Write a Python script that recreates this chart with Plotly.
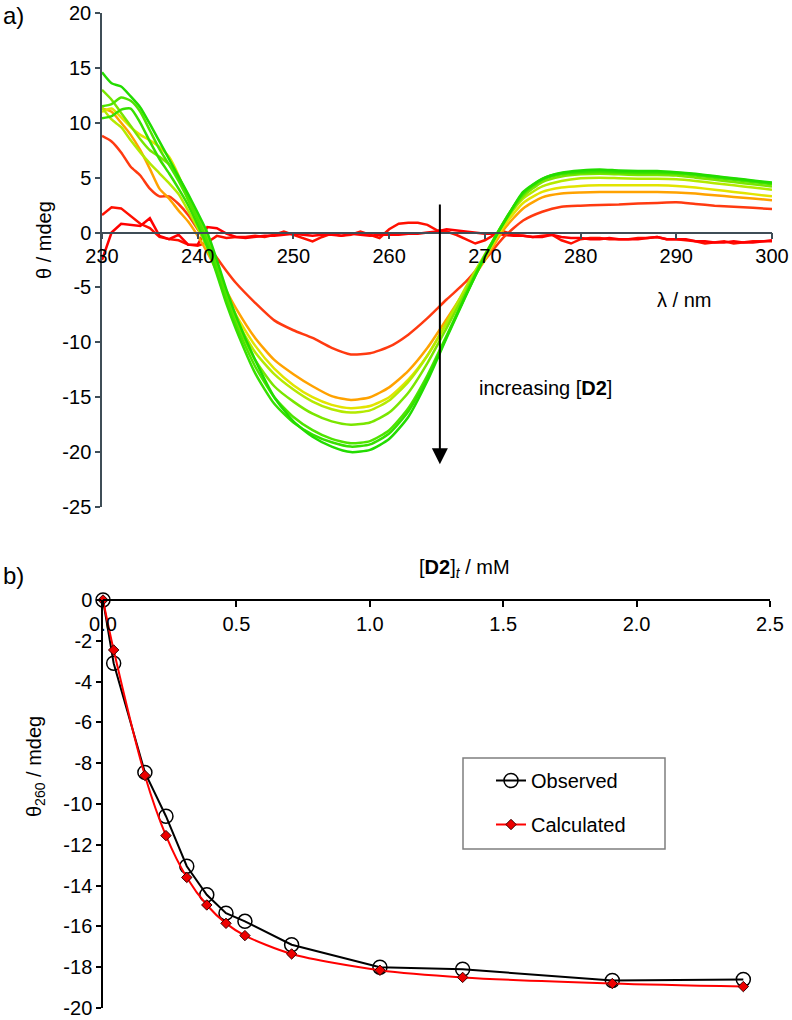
import plotly.graph_objects as go

# ---- panel a: CD spectra ----
wl = [230, 231, 232, 233, 234, 235, 236, 237, 238, 239, 240, 241, 242, 243, 244,
      246, 248, 250, 252, 254, 256, 258, 260, 262, 264, 266, 268, 270, 272, 274,
      276, 278, 280, 282, 284, 286, 288, 290, 292, 294, 296, 298, 300]

wl_fine = [230, 231, 232, 233, 234, 235, 236, 237, 238, 239, 240, 241, 242, 243, 244,
           245, 246, 247, 248, 249, 250, 251, 252, 253, 254, 255, 256, 257, 258, 259,
           260, 261, 262, 263, 264, 265, 266, 267, 268, 269, 270, 271, 272, 273, 274,
           275, 276, 277, 278, 279, 280, 281, 282, 283, 284, 285, 286, 287, 288, 289,
           290, 291, 292, 293, 294, 295, 296, 297, 298, 299, 300]

# two noisy spectra with almost no signal
base_1 = [1.6, 2.3, 2.2, 1.5, 0.8, 0.4, -0.4, -0.6, -0.7, -1.1, -1.2, -0.9, -0.3, -0.5, -0.4,
          -0.4, -0.3, -0.4, -0.2, 0.1, -0.2, -0.5, -0.8, -0.4, -0.1, -0.3, -0.2, 0.1, -0.2, -0.5,
          0.3, 0.8, 0.9, 0.9, 0.7, 0.2, 0.1, -0.2, -0.6, -1.0, -0.7, -0.2, 0.1, -0.2, -0.3,
          -0.4, -0.3, -0.2, -0.7, -1.0, -0.6, -0.5, -0.5, -0.6, -0.6, -0.6, -0.5, -0.5, -0.4, -0.6,
          -0.6, -0.7, -0.8, -1.0, -0.9, -0.8, -1.0, -0.9, -0.8, -0.8, -0.8]
base_2 = [-2.5, 0.0, 0.8, 0.7, 0.6, 1.3, -0.3, -0.6, -0.2, -1.1, -1.1, 0.5, 0.4, -0.1, -0.4,
          -0.5, -0.4, -0.3, -0.3, -0.2, -0.1, -0.2, -0.3, -0.2, -0.2, -0.3, -0.1, -0.2, -0.3, -0.2,
          -0.2, -0.2, -0.1, -0.1, 0.0, 0.1, 0.3, 0.2, 0.1, 0.0, -0.1, -0.1, -0.2, -0.3, -0.3,
          -0.4, -0.4, -0.2, -0.4, -0.5, -0.5, -0.6, -0.6, -0.5, -0.6, -0.6, -0.6, -0.5, -0.4, -0.6,
          -0.6, -0.6, -0.8, -0.8, -0.9, -0.9, -0.8, -0.9, -0.9, -0.8, -0.7]

cd_1 = [8.8, 8.3, 7.3, 6.0, 5.2, 4.0, 3.3, 3.3, 2.6, 1.6, 0.3, -1.0, -2.3, -3.5, -4.6,
        -6.4, -8.0, -8.9, -9.6, -10.5, -11.1, -11.0, -10.4, -9.3, -7.8, -6.1, -4.5, -2.5, -0.4, 1.1,
        1.9, 2.35, 2.45, 2.5, 2.55, 2.65, 2.7, 2.75, 2.6, 2.45, 2.35, 2.25, 2.15]
cd_2 = [11.3, 11.0, 10.0, 8.9, 7.5, 5.8, 4.0, 3.1, 2.0, 1.0, -0.3, -1.8, -3.5, -5.3, -6.9,
        -9.6, -11.6, -12.9, -14.0, -14.9, -15.25, -15.0, -14.1, -12.6, -10.5, -7.9, -5.2, -2.5, 0.3, 2.2,
        3.2, 3.55, 3.65, 3.7, 3.7, 3.7, 3.7, 3.65, 3.55, 3.4, 3.25, 3.1, 2.95]
cd_3 = [11.0, 11.3, 10.5, 9.6, 8.9, 8.4, 7.8, 6.9, 5.2, 3.0, 1.0, -0.8, -3.0, -5.5, -7.5,
        -10.3, -12.4, -13.9, -15.0, -15.7, -16.0, -15.8, -15.0, -13.4, -11.2, -8.3, -5.3, -2.3, 0.6, 2.7,
        3.7, 4.1, 4.25, 4.3, 4.3, 4.3, 4.3, 4.25, 4.1, 3.9, 3.7, 3.5, 3.3]
cd_4 = [11.4, 10.3, 9.6, 8.4, 7.3, 6.3, 5.4, 4.5, 3.5, 2.0, 0.4, -1.4, -3.6, -5.9, -7.9,
        -10.9, -12.9, -14.3, -15.4, -16.1, -16.4, -16.2, -15.3, -13.6, -11.2, -8.2, -5.0, -2.0, 0.9, 3.1,
        4.2, 4.7, 4.95, 5.0, 4.95, 4.9, 4.9, 4.85, 4.7, 4.5, 4.3, 4.1, 3.9]
cd_5 = [13.0, 12.1, 10.9, 9.7, 8.5, 7.5, 6.9, 6.2, 5.0, 3.4, 1.5, -0.5, -3.0, -5.7, -8.0,
        -11.6, -14.0, -15.4, -16.5, -17.2, -17.5, -17.3, -16.4, -14.6, -11.9, -8.7, -5.4, -2.1, 0.9, 3.3,
        4.6, 5.1, 5.3, 5.35, 5.3, 5.25, 5.25, 5.2, 5.0, 4.8, 4.6, 4.4, 4.2]
cd_6 = [11.5, 11.7, 12.3, 12.0, 11.0, 9.3, 7.6, 6.2, 4.7, 3.0, 1.2, -0.8, -3.3, -6.0, -8.4,
        -12.2, -15.0, -16.8, -18.0, -18.8, -19.2, -19.0, -18.0, -16.0, -13.0, -9.4, -5.7, -2.2, 1.0, 3.5,
        4.8, 5.3, 5.45, 5.5, 5.45, 5.4, 5.4, 5.35, 5.2, 5.0, 4.8, 4.6, 4.4]
cd_7 = [10.4, 10.6, 11.2, 11.3, 10.0, 8.3, 6.7, 5.4, 4.0, 2.5, 0.7, -1.3, -3.8, -6.5, -8.8,
        -12.8, -15.6, -17.3, -18.4, -19.1, -19.5, -19.3, -18.3, -16.3, -13.2, -9.5, -5.7, -2.1, 1.0, 3.6,
        4.9, 5.4, 5.55, 5.6, 5.55, 5.5, 5.5, 5.45, 5.3, 5.1, 4.9, 4.7, 4.5]
cd_8 = [14.6, 13.6, 13.3, 12.4, 11.4, 9.9, 8.3, 6.7, 5.1, 3.5, 1.8, 0.0, -2.5, -5.2, -7.6,
        -11.6, -15.0, -17.2, -18.6, -19.5, -20.0, -19.8, -18.8, -16.8, -13.5, -9.6, -5.8, -2.2, 0.9, 3.7,
        4.9, 5.45, 5.65, 5.75, 5.65, 5.6, 5.6, 5.5, 5.35, 5.15, 4.95, 4.75, 4.55]

spectra = [cd_1, cd_2, cd_3, cd_4, cd_5, cd_6, cd_7, cd_8]
spectra_colors = ['#ff3a10', '#ffa200', '#e2e400', '#b4ea00', '#7ae600', '#4ee400', '#36e000', '#22dc00']

# ---- panel b: theta at 260 nm vs [D2]t ----
conc = [0, 0.04, 0.157, 0.236, 0.314, 0.389, 0.461, 0.532, 0.707, 1.038, 1.348, 1.909, 2.40]
theta_obs = [0, -3.1, -8.45, -10.6, -13.05, -14.45, -15.35, -15.75, -16.9, -18.0, -18.1, -18.65, -18.6]
theta_calc = [0, -2.45, -8.6, -11.55, -13.6, -14.95, -15.85, -16.45, -17.35, -18.15, -18.5, -18.8, -18.95]

ya_ticks = [-25, -20, -15, -10, -5, 0, 5, 10, 15, 20]
ya_text = ['-25', '-20', '-15', '-10', '-5', '0', '5', '10', '15', '20']
yb_ticks = [-20, -18, -16, -14, -12, -10, -8, -6, -4, -2, 0]
yb_text = ['-20', '-18', '-16', '-14', '-12', '-10', '-8', '-6', '-4', '-2', '0']

W, H = 792, 1020
FONT = 'Liberation Sans, Arial, sans-serif'
SLATE = '#3f4d57'


def px(p):
    return p / W


def py(p):
    return 1 - p / H


fig = go.Figure()

for ys, col in zip([base_1, base_2], ['#ff1000', '#ff0000']):
    fig.add_trace(go.Scatter(x=wl_fine, y=ys, mode='lines', line=dict(color=col, width=2.5),
                             showlegend=False, xaxis='x', yaxis='y'))
for ys, col in zip(spectra, spectra_colors):
    fig.add_trace(go.Scatter(x=wl, y=ys, mode='lines', line=dict(color=col, width=2.5, shape='spline', smoothing=0.6),
                             showlegend=False, xaxis='x', yaxis='y'))

fig.add_trace(go.Scatter(x=conc, y=theta_obs, mode='lines+markers', name='Observed',
                         line=dict(color='black', width=2),
                         marker=dict(symbol='circle-open', size=14, color='black', line=dict(width=1.5)),
                         cliponaxis=False, legendgroup='obs', xaxis='x2', yaxis='y2'))
fig.add_trace(go.Scatter(x=conc, y=theta_calc, mode='lines+markers', name='Calculated',
                         line=dict(color='#ff0000', width=2, shape='spline', smoothing=0.8),
                         marker=dict(symbol='diamond', size=8, color='#ee0000', line=dict(color='#3a0000', width=1)),
                         cliponaxis=False, legendgroup='calc', xaxis='x2', yaxis='y2'))

# panel domains from pixel positions in the reference
ya_dom = [py(507), py(13)]
yb_dom = [py(1008), py(600)]
xa_pos = ya_dom[0] + (0 - (-25)) / 45 * (ya_dom[1] - ya_dom[0])

tick_font = dict(family=FONT, size=20, color='black')

fig.update_layout(
    width=W, height=H,
    margin=dict(l=0, r=0, t=0, b=0, autoexpand=False),
    paper_bgcolor='white', plot_bgcolor='rgba(0,0,0,0)',
    font=dict(family=FONT, size=20, color='black'),
    xaxis=dict(domain=[px(102), px(772)], range=[230, 300], anchor='free', position=xa_pos, side='bottom',
               dtick=10, showline=True, linecolor=SLATE, linewidth=1.5, ticks='outside', ticklen=6,
               tickcolor=SLATE, tickwidth=1.5, showgrid=False, zeroline=False, tickfont=tick_font,
               ticklabeloverflow='allow'),
    yaxis=dict(domain=ya_dom, range=[-25, 20], anchor='x', tickvals=ya_ticks, ticktext=ya_text,
               showline=True, linecolor=SLATE, linewidth=1.5, ticks='outside', ticklen=5,
               tickcolor=SLATE, tickwidth=1.5, showgrid=False, zeroline=False, tickfont=tick_font,
               ticklabeloverflow='allow'),
    xaxis2=dict(domain=[px(103), px(770)], range=[0, 2.5], anchor='free', position=yb_dom[1], side='bottom',
                dtick=0.5, tickformat='.1f', showline=True, linecolor='black', linewidth=1.5,
                ticks='outside', ticklen=6, tickcolor='black', tickwidth=1.5,
                showgrid=False, zeroline=False, tickfont=tick_font, ticklabeloverflow='allow'),
    yaxis2=dict(domain=yb_dom, range=[-20, 0], anchor='x2', tickvals=yb_ticks, ticktext=yb_text,
                showline=True, linecolor='black', linewidth=1.5, ticks='outside', ticklen=5,
                tickcolor='black', tickwidth=1.5, showgrid=False, zeroline=False, tickfont=tick_font,
                ticklabeloverflow='allow'),
    legend=dict(x=px(463), y=py(761), xanchor='left', yanchor='top',
                bgcolor='rgba(0,0,0,0)', borderwidth=0,
                font=dict(family=FONT, size=20, color='black'),
                tracegroupgap=15, indentation=28),
)

# legend frame
fig.add_shape(type='rect', xref='paper', yref='paper', x0=px(463), x1=px(665), y0=py(849), y1=py(758),
              line=dict(color='#7f7f7f', width=1.5), fillcolor='white', layer='above')

ann = [
    dict(text='a)', x=px(1), y=py(16), xanchor='left', yanchor='middle', font=dict(size=24)),
    dict(text='b)', x=px(1), y=py(575), xanchor='left', yanchor='middle', font=dict(size=24)),
    dict(text='θ / mdeg', x=px(44), y=py(240), textangle=-90, xanchor='center', yanchor='middle'),
    dict(text='λ / nm', x=px(684), y=py(300), xanchor='center', yanchor='middle'),
    dict(text='increasing [<b>D2</b>]', x=px(477), y=py(388), xanchor='left', yanchor='middle'),
    dict(text='[<b>D2</b>]<sub><i>t</i></sub> / mM', x=px(464), y=py(568), xanchor='center', yanchor='middle'),
    dict(text='θ<sub>260</sub> / mdeg', x=px(35), y=py(767), textangle=-90, xanchor='center', yanchor='middle'),
]
for a in ann:
    fig.add_annotation(xref='paper', yref='paper', showarrow=False, **a)

# arrow marking the trend
fig.add_annotation(x=265.3, y=-21.1, ax=265.3, ay=2.7, xref='x', yref='y', axref='x', ayref='y',
                   text='', showarrow=True, arrowhead=2, arrowsize=1.6, arrowwidth=2, arrowcolor='black')

# drop the default page margin so the figure sits at the top-left corner
fig.write_html("out.html", config={'displayModeBar': False},
               post_script="document.body.style.margin = '0';")
